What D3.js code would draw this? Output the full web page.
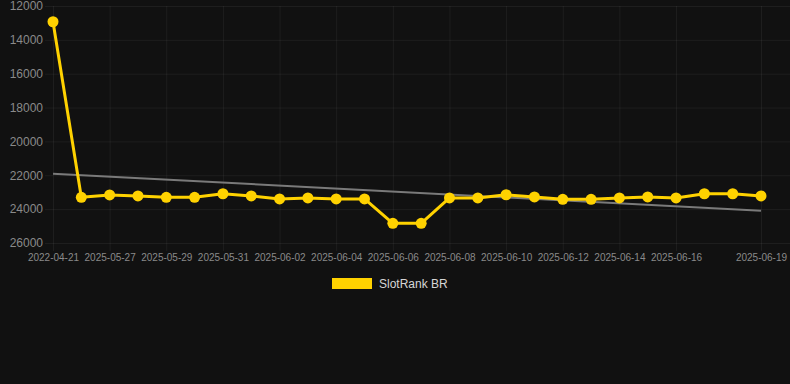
<!DOCTYPE html>
<html>
<head>
<meta charset="utf-8">
<script src="https://cdn.jsdelivr.net/npm/d3@7"></script>
<style>
    html, body { margin: 0; padding: 0; background: #111111; }
    svg { display: block; font-family: "Liberation Sans", Arial, Helvetica, sans-serif; }
</style>
</head>
<body>
<div id="chart"></div>
<script>
const dates = [
    "2022-04-21", "2025-05-26", "2025-05-27", "2025-05-28", "2025-05-29", "2025-05-30",
    "2025-05-31", "2025-06-01", "2025-06-02", "2025-06-03", "2025-06-04", "2025-06-05",
    "2025-06-06", "2025-06-07", "2025-06-08", "2025-06-09", "2025-06-10", "2025-06-11",
    "2025-06-12", "2025-06-13", "2025-06-14", "2025-06-15", "2025-06-16", "2025-06-17",
    "2025-06-18", "2025-06-19",
];
const ranks = [
    12930, 23300, 23160, 23220, 23300, 23300,
    23090, 23220, 23400, 23340, 23400, 23400,
    24840, 24840, 23340, 23340, 23150, 23280,
    23420, 23420, 23340, 23280, 23340, 23090,
    23090, 23220,
];
const shownDates = [
    "2022-04-21", "2025-05-27", "2025-05-29", "2025-05-31", "2025-06-02", "2025-06-04",
    "2025-06-06", "2025-06-08", "2025-06-10", "2025-06-12", "2025-06-14", "2025-06-16",
    "2025-06-19",
];
const yTicks = [12000, 14000, 16000, 18000, 20000, 22000, 24000, 26000];
const seriesName = "SlotRank BR";

const COLORS = {
    background: "#111111",
    grid: "rgba(255,255,255,0.055)",
    tick: "#8a8a8a",
    line: "#ffd200",
    trend: "#7a7a7a",
    legendText: "#d6d6d6",
};

const width = 790;
const height = 384;
const plot = { left: 53, right: 761, top: 6, bottom: 243, gridRight: 790 };

const svg = d3.select("#chart")
    .append("svg")
    .attr("width", width)
    .attr("height", height);

svg.append("rect").attr("width", width).attr("height", height).attr("fill", COLORS.background);

const x = d3.scalePoint().domain(dates).range([plot.left, plot.right]);
const y = d3.scaleLinear().domain([12000, 26000]).range([plot.top, plot.bottom]);

// horizontal grid + y labels
const yAxis = d3.axisLeft(y)
    .tickValues(yTicks)
    .tickFormat(d3.format("d"))
    .tickSize(plot.gridRight - plot.left + 8)
    .tickPadding(2);

svg.append("g")
    .attr("transform", `translate(${plot.gridRight},0)`)
    .call(yAxis)
    .call((g) => {
        g.select(".domain").remove();
        g.selectAll(".tick line").attr("stroke", COLORS.grid);
        g.selectAll(".tick text")
            .attr("fill", COLORS.tick)
            .style("font-size", "12px");
    });

// vertical grid + x labels
const xAxis = d3.axisBottom(x)
    .tickValues(shownDates)
    .tickSize(plot.bottom - plot.top + 8)
    .tickPadding(3);

svg.append("g")
    .attr("transform", `translate(0,${plot.top})`)
    .call(xAxis)
    .call((g) => {
        g.select(".domain").remove();
        g.selectAll(".tick line").attr("stroke", COLORS.grid);
        g.selectAll(".tick text")
            .attr("fill", COLORS.tick)
            .style("font-size", "10px");
    });

// linear regression trend over the series
const idx = ranks.map((_, i) => i);
const meanX = d3.mean(idx);
const meanY = d3.mean(ranks);
const slope = d3.sum(idx, (i) => (i - meanX) * (ranks[i] - meanY)) / d3.sum(idx, (i) => (i - meanX) ** 2);
const intercept = meanY - slope * meanX;
const trend = [0, ranks.length - 1].map((i) => ({ date: dates[i], value: intercept + slope * i }));

svg.append("path")
    .datum(trend)
    .attr("fill", "none")
    .attr("stroke", COLORS.trend)
    .attr("stroke-width", 2)
    .attr("d", d3.line().x((d) => x(d.date)).y((d) => y(d.value)));

const series = dates.map((date, i) => ({ date, value: ranks[i] }));

svg.append("path")
    .datum(series)
    .attr("fill", "none")
    .attr("stroke", COLORS.line)
    .attr("stroke-width", 3)
    .attr("stroke-linejoin", "round")
    .attr("d", d3.line().x((d) => x(d.date)).y((d) => y(d.value)));

svg.append("g")
    .selectAll("circle")
    .data(series)
    .enter()
    .append("circle")
    .attr("cx", (d) => x(d.date))
    .attr("cy", (d) => y(d.value))
    .attr("r", 5.5)
    .attr("fill", COLORS.line);

// legend
const legend = svg.append("g").attr("transform", "translate(332,278)");
legend.append("rect")
    .attr("width", 40)
    .attr("height", 11)
    .attr("fill", COLORS.line);
legend.append("text")
    .attr("x", 47)
    .attr("y", 10)
    .attr("fill", COLORS.legendText)
    .style("font-size", "12px")
    .text(seriesName);
</script>
</body>
</html>
